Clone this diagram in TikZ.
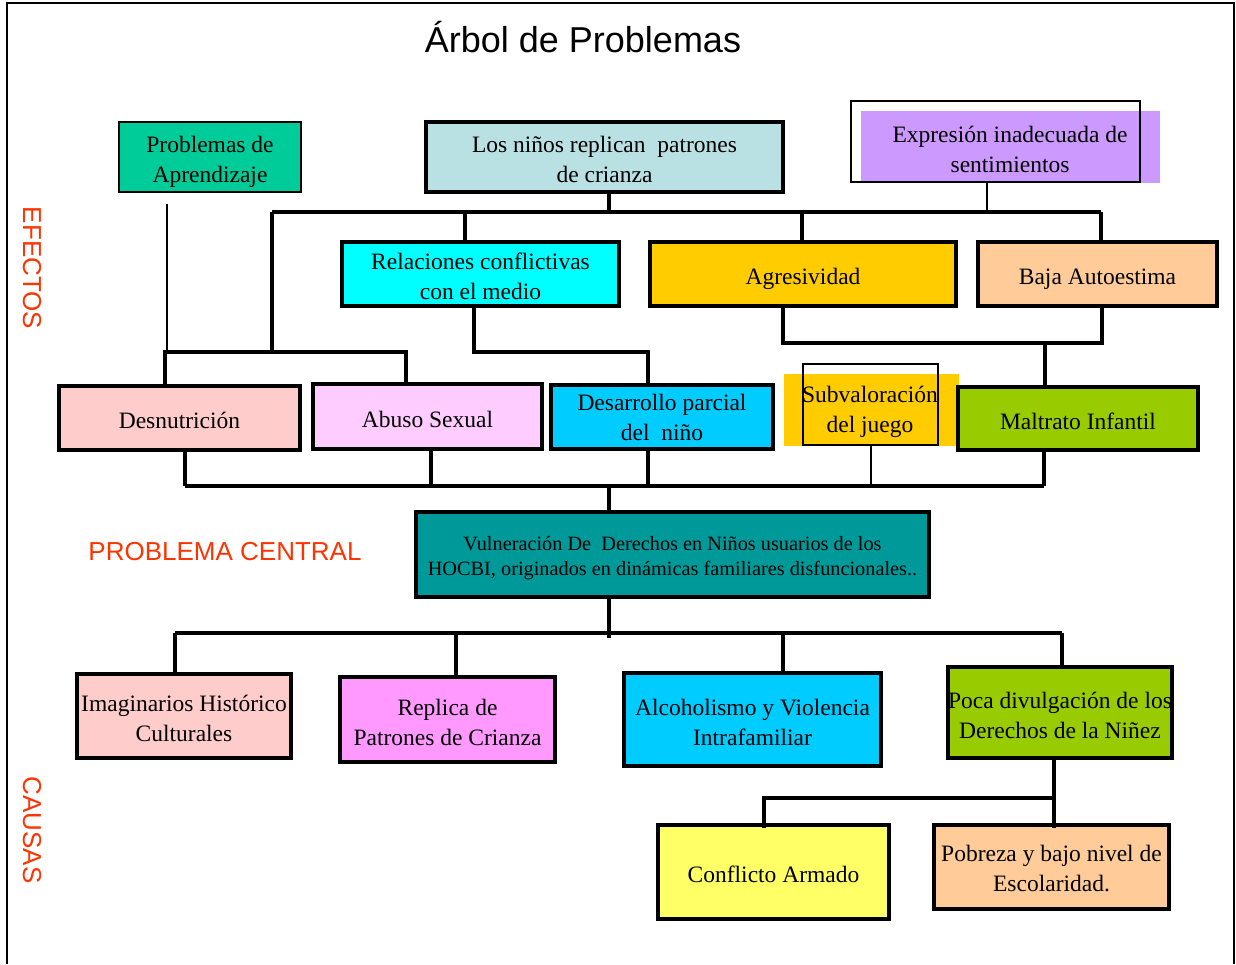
\documentclass[tikz,border=0pt]{standalone}
\usepackage{fontspec}
\setmainfont{Liberation Serif}
\newfontfamily\handfont{Liberation Sans}
\definecolor{labred}{HTML}{FF3300}
\definecolor{cAprend}{HTML}{00CC99}
\definecolor{cLos}{HTML}{B9E0E3}
\definecolor{cExpr}{HTML}{CC99FF}
\definecolor{cCyan}{HTML}{00FFFF}
\definecolor{cGold}{HTML}{FFCC00}
\definecolor{cPeach}{HTML}{FFCC99}
\definecolor{cPink}{HTML}{FFCCCC}
\definecolor{cLilac}{HTML}{FFCCFF}
\definecolor{cSky}{HTML}{00CCFF}
\definecolor{cLime}{HTML}{99CC00}
\definecolor{cTeal}{HTML}{009999}
\definecolor{cMagenta}{HTML}{FF99FF}
\definecolor{cYellow}{HTML}{FFFF66}
\tikzset{
  tx/.style={align=center, inner sep=0pt, font=\fontsize{23.5}{30}\selectfont, yshift=-2.5pt},
  box/.style={draw, line width=3.5pt, inner sep=0pt},
  thinbox/.style={draw, line width=1.3pt, inner sep=0pt},
  flatbox/.style={inner sep=0pt, align=center, font=\fontsize{23.5}{30}\selectfont},
  conn/.style={line width=4pt},
  thinconn/.style={line width=1.3pt},
  lbl/.style={text=labred, font=\handfont\fontsize{26}{30}\selectfont, inner sep=0pt}
}
\begin{document}
\begin{tikzpicture}[x=1pt,y=-1pt]
\useasboundingbox (0,0) rectangle (1236,964);
% frame
\coordinate (f1) at (7,964);
\coordinate (f2) at (7,3);
\coordinate (f3) at (1234,3);
\coordinate (f4) at (1234,964);
\draw[line width=2.5pt] (f1) -- (f2) -- (f3) -- (f4);

% title and labels
\node[font=\handfont\fontsize{36}{40}\selectfont, inner sep=0pt] (title) at (583,37) {Árbol de Problemas};
\node[lbl, rotate=-90] (efectos) at (32,268) {EFECTOS};
\node[lbl] (pcentral) at (225,552) {PROBLEMA CENTRAL};
\node[lbl, rotate=-90] (causas) at (32,830) {CAUSAS};

% effect boxes
\node[thinbox, fill=cAprend, minimum width=182pt, minimum height=70pt,
  label={[tx, yshift=-2.5pt]center:{Problemas de\\Aprendizaje}}] (aprend) at (210,157) {};
\node[box, fill=cLos, minimum width=357pt, minimum height=70pt,
  label={[tx]center:{Los niños replican\ \ patrones\\de crianza}}] (losninos) at (604.5,157) {};
\node[flatbox, fill=cExpr, minimum width=299pt, minimum height=72pt] (exprfill) at (1010.5,147) {};
\node[thinbox, minimum width=289pt, minimum height=81pt] (expr) at (995.5,141.5) {};
\node[flatbox] (exprtext) at (1010,149) {Expresión inadecuada de\\sentimientos};

\node[box, fill=cCyan, minimum width=277pt, minimum height=64pt,
  label={[tx]center:{Relaciones conflictivas\\con el medio}}] (relac) at (480.5,274) {};
\node[box, fill=cGold, minimum width=306pt, minimum height=64pt,
  label={[tx, yshift=-2.5pt]center:{Agresividad}}] (agres) at (803,274) {};
\node[box, fill=cPeach, minimum width=239pt, minimum height=64pt,
  label={[tx, yshift=-2.5pt]center:{Baja Autoestima}}] (baja) at (1097.5,274) {};

\node[box, fill=cPink, minimum width=241pt, minimum height=64pt,
  label={[tx]center:{Desnutrición}}] (desnut) at (179.5,418) {};
\node[box, fill=cLilac, minimum width=229pt, minimum height=65pt,
  label={[tx]center:{Abuso Sexual}}] (abuso) at (427.5,416.5) {};
\node[box, fill=cSky, minimum width=222pt, minimum height=64pt,
  label={[tx, yshift=2pt]center:{Desarrollo parcial\\del\ \ niño}}] (desarr) at (662,417) {};
\node[flatbox, fill=cGold, minimum width=175pt, minimum height=72pt] (subfill) at (871.5,410) {};
\node[thinbox, minimum width=135pt, minimum height=81pt] (subval) at (870.5,404.5) {};
\node[flatbox] (subtext) at (870,412) {Subvaloración\\del juego};
\node[box, fill=cLime, minimum width=240pt, minimum height=63pt,
  label={[tx]center:{Maltrato Infantil}}] (maltrato) at (1078,418.5) {};

% central problem
\node[box, fill=cTeal, minimum width=513pt, minimum height=85pt,
  label={[tx, yshift=-1.5pt, font=\fontsize{20.3}{25}\selectfont]center:{Vulneración De\ \ Derechos en Niños usuarios de los\\HOCBI, originados en dinámicas familiares disfuncionales..}}] (central) at (672.5,554.5) {};

% cause boxes
\node[box, fill=cPink, minimum width=214pt, minimum height=84pt,
  label={[tx]center:{Imaginarios Histórico\\Culturales}}] (imag) at (184,716) {};
\node[box, fill=cMagenta, minimum width=215pt, minimum height=85pt,
  label={[tx]center:{Replica de\\Patrones de Crianza}}] (replica) at (447.5,719.5) {};
\node[box, fill=cSky, minimum width=257pt, minimum height=93pt,
  label={[tx]center:{Alcoholismo y Violencia\\Intrafamiliar}}] (alcoh) at (752.5,719.5) {};
\node[box, fill=cLime, minimum width=224pt, minimum height=91pt,
  label={[tx]center:{Poca divulgación de los\\Derechos de la Niñez}}] (poca) at (1060,712.5) {};
\node[box, fill=cYellow, minimum width=231pt, minimum height=94pt,
  label={[tx]center:{Conflicto Armado}}] (conflicto) at (773.5,872) {};
\node[box, fill=cPeach, minimum width=235pt, minimum height=84pt,
  label={[tx, yshift=1pt]center:{Pobreza y bajo nivel de\\Escolaridad.}}] (pobreza) at (1051.5,867) {};

% junction coordinates
\coordinate (e1a) at (272,212);
\coordinate (e1b) at (1101,212);
\coordinate (j1) at (609,212);
\coordinate (j2) at (465,212);
\coordinate (j3) at (802,212);
\coordinate (j4) at (987,212);
\coordinate (e1c) at (272,352);
\coordinate (b2a) at (165,352);
\coordinate (b2b) at (406,352);
\coordinate (a1) at (167,352);
\coordinate (r1) at (474,352);
\coordinate (r2) at (648,352);
\coordinate (g1) at (783,343);
\coordinate (g2) at (1102,343);
\coordinate (m1) at (1045,343);
\coordinate (c1) at (185,486);
\coordinate (c2) at (1044,486);
\coordinate (c3) at (431,486);
\coordinate (c4) at (648,486);
\coordinate (c5) at (871,486);
\coordinate (c6) at (609,486);
\coordinate (d0) at (609,633);
\coordinate (d1) at (175,633);
\coordinate (d2) at (1062,633);
\coordinate (d3) at (456,633);
\coordinate (d4) at (783,633);
\coordinate (p0) at (1054,798);
\coordinate (p1) at (764,798);

% effect connectors
\draw[conn] (losninos.south -| j1) -- (j1);
\draw[conn] (e1a) -- (e1b);
\draw[conn] (e1a) -- (e1c);
\draw[conn] (j2) -- (relac.north -| j2);
\draw[conn] (j3) -- (agres.north -| j3);
\draw[conn] (e1b) -- (baja.north -| e1b);
\draw[thinconn] (expr.south -| j4) -- (j4);
\draw[thinconn, shorten <=11pt] (aprend.south -| a1) -- (a1);
\draw[conn] (desnut.north -| b2a) -- (b2a) -- (b2b) -- (abuso.north -| b2b);
\draw[conn] (relac.south -| r1) -- (r1) -- (r2) -- (desarr.north -| r2);
\draw[conn] (agres.south -| g1) -- (g1) -- (g2) -- (baja.south -| g2);
\draw[conn] (m1) -- (maltrato.north -| m1);

% lower effect bus
\draw[conn] (c1) -- (c2);
\draw[conn] (desnut.south -| c1) -- (c1);
\draw[conn] (abuso.south -| c3) -- (c3);
\draw[conn] (desarr.south -| c4) -- (c4);
\draw[thinconn] (subval.south -| c5) -- (c5);
\draw[conn] (maltrato.south -| c2) -- (c2);
\draw[conn] (c6) -- (central.north -| c6);

% cause connectors
\draw[conn] (central.south -| d0) -- ([yshift=-5pt]d0);
\draw[conn] (d1) -- (d2);
\draw[conn] (d1) -- (imag.north -| d1);
\draw[conn] (d3) -- (replica.north -| d3);
\draw[conn] (d4) -- (alcoh.north -| d4);
\draw[conn] (d2) -- ([yshift=-4pt]poca.north -| d2);
\draw[conn] (poca.south -| p0) -- (p0) -- (p1) -- ([yshift=-5pt]conflicto.north -| p1);
\draw[conn] (p0) -- ([yshift=-5pt]pobreza.north -| p0);
\end{tikzpicture}
\end{document}
